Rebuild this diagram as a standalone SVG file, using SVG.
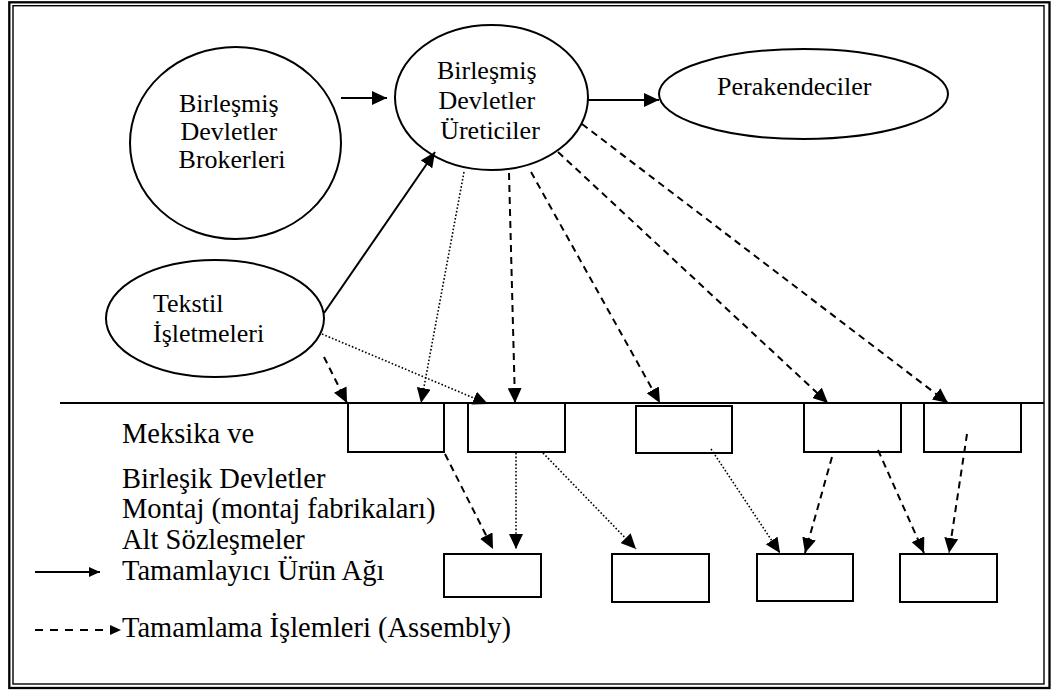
<svg xmlns="http://www.w3.org/2000/svg" width="1052" height="690" viewBox="0 0 1052 690">
  <defs>
    <style>
      .shape { fill: none; stroke: #000; stroke-width: 2; }
      .lbl { font-family: "Liberation Serif", "Times New Roman", serif; font-size: 26px; fill: #000; }
      .side { font-family: "Liberation Serif", "Times New Roman", serif; font-size: 28.5px; fill: #000; }
      .solid { fill: none; stroke: #000; stroke-width: 2; }
      .dash { fill: none; stroke: #000; stroke-width: 2; stroke-dasharray: 7 5; }
      .dot { fill: none; stroke: #000; stroke-width: 1.6; stroke-dasharray: 1.6 2; }
    </style>
    <marker id="head" markerUnits="userSpaceOnUse" markerWidth="16" markerHeight="14" refX="15" refY="7" orient="auto">
      <path d="M0,0 L15,7 L0,14 Z" fill="#000"/>
    </marker>
    <marker id="headSmall" markerUnits="userSpaceOnUse" markerWidth="12" markerHeight="10" refX="11" refY="5" orient="auto">
      <path d="M0,0 L11,5 L0,10 Z" fill="#000"/>
    </marker>
  </defs>

  <rect width="1052" height="690" fill="#fff"/>

  <!-- double page frame -->
  <g id="frame" fill="none" stroke="#000">
    <rect x="9.3" y="2.3" width="1040.2" height="685.7" stroke-width="2.3"/>
    <rect x="13" y="5.7" width="1031" height="678.3" stroke-width="1.4"/>
  </g>

  <!-- border line between the US and Mexico tiers -->
  <line id="border" x1="60" y1="403" x2="1044" y2="403" stroke="#000" stroke-width="2"/>

  <g id="brokers">
    <ellipse class="shape" cx="235.5" cy="143" rx="105.5" ry="96"/>
    <text class="lbl" text-anchor="middle">
      <tspan x="232" y="112">Birleşmiş</tspan>
      <tspan x="232" y="140">Devletler</tspan>
      <tspan x="232" y="168">Brokerleri</tspan>
    </text>
  </g>

  <g id="manufacturers">
    <ellipse class="shape" cx="491.5" cy="97.5" rx="96.5" ry="72.5"/>
    <text class="lbl" text-anchor="middle">
      <tspan x="490" y="79">Birleşmiş</tspan>
      <tspan x="490" y="109">Devletler</tspan>
      <tspan x="490" y="139">Üreticiler</tspan>
    </text>
  </g>

  <g id="retailers">
    <ellipse class="shape" cx="803.5" cy="94" rx="144.5" ry="45"/>
    <text class="lbl" x="717" y="95">Perakendeciler</text>
  </g>

  <g id="textile">
    <ellipse class="shape" cx="215" cy="318.5" rx="109" ry="58.5"/>
    <text class="lbl">
      <tspan x="153" y="312">Tekstil</tspan>
      <tspan x="153" y="342">İşletmeleri</tspan>
    </text>
  </g>

  <!-- assembly plants along the border -->
  <g id="plant-1"><rect class="shape" x="348" y="403" width="96" height="49"/></g>
  <g id="plant-2"><rect class="shape" x="468" y="403" width="97" height="49"/></g>
  <g id="plant-3"><rect class="shape" x="636" y="406" width="96" height="47"/></g>
  <g id="plant-4"><rect class="shape" x="804" y="403" width="97" height="49"/></g>
  <g id="plant-5"><rect class="shape" x="924" y="403" width="97" height="49"/></g>

  <!-- subcontractors -->
  <g id="sub-1"><rect class="shape" x="444" y="554" width="97" height="43"/></g>
  <g id="sub-2"><rect class="shape" x="612" y="554" width="97" height="48"/></g>
  <g id="sub-3"><rect class="shape" x="757" y="554" width="96" height="47"/></g>
  <g id="sub-4"><rect class="shape" x="900" y="554" width="97" height="48"/></g>

  <!-- side captions -->
  <g id="captions">
    <text class="side" x="122" y="443">Meksika ve</text>
    <text class="side" x="122" y="488">Birleşik Devletler</text>
    <text class="side" x="122" y="518">Montaj (montaj fabrikaları)</text>
    <text class="side" x="122" y="549">Alt Sözleşmeler</text>
    <text class="side" x="122" y="580">Tamamlayıcı Ürün Ağı</text>
    <text class="side" x="122" y="637">Tamamlama İşlemleri (Assembly)</text>
  </g>

  <g id="connectors">
    <!-- complementary product network -->
    <line class="solid" x1="341" y1="98" x2="387" y2="98" marker-end="url(#head)"/>
    <line class="solid" x1="588" y1="100" x2="659" y2="100" marker-end="url(#head)"/>
    <line class="solid" x1="324" y1="313" x2="435" y2="152" marker-end="url(#head)"/>

    <!-- flows from the manufacturers to the plants -->
    <line class="dot" x1="464" y1="172" x2="421" y2="403" marker-end="url(#head)"/>
    <line class="dash" x1="509" y1="173" x2="515" y2="403" marker-end="url(#head)"/>
    <line class="dash" x1="531" y1="172" x2="660" y2="403" marker-end="url(#head)"/>
    <line class="dash" x1="558" y1="152" x2="828" y2="403" marker-end="url(#head)"/>
    <line class="dash" x1="582" y1="124" x2="948" y2="403" marker-end="url(#head)"/>

    <!-- flows from the textile firms -->
    <line class="dot" x1="322" y1="334" x2="488" y2="404" marker-end="url(#head)"/>
    <line class="dash" x1="324" y1="357" x2="347" y2="403" marker-end="url(#head)"/>

    <!-- plants to subcontractors -->
    <line class="dash" x1="445" y1="454" x2="493" y2="549" marker-end="url(#head)"/>
    <line class="dot" x1="516" y1="453" x2="516" y2="549" marker-end="url(#head)"/>
    <line class="dot" x1="543" y1="453" x2="636" y2="549" marker-end="url(#head)"/>
    <line class="dot" x1="711" y1="449" x2="780" y2="553" marker-end="url(#head)"/>
    <line class="dash" x1="832" y1="457" x2="805" y2="553" marker-end="url(#head)"/>
    <line class="dash" x1="878" y1="450" x2="924" y2="553" marker-end="url(#head)"/>
    <line class="dash" x1="967" y1="434" x2="949" y2="553" marker-end="url(#head)"/>

    <!-- legend arrows -->
    <line class="solid" x1="35" y1="572" x2="100" y2="572" marker-end="url(#headSmall)"/>
    <line class="solid" x1="35" y1="630" x2="121" y2="630" stroke-dasharray="8 7" marker-end="url(#headSmall)"/>
  </g>
</svg>
